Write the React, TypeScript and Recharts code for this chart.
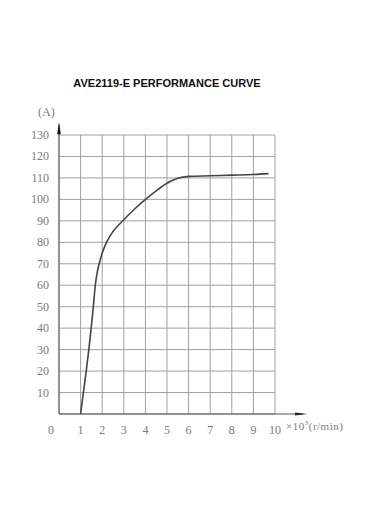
import React from "react";
import {
  LineChart,
  Line,
  XAxis,
  YAxis,
  CartesianGrid,
  ReferenceLine,
} from "recharts";

const speedK = [1.0, 1.13, 1.26, 1.38, 1.49, 1.59, 1.68, 1.77, 1.86, 2.0, 2.2, 2.5, 3.0, 3.5, 4.0, 4.5, 5.0, 5.5, 6.0, 7.0, 8.0, 9.0, 9.7];
const currentA = [0, 10, 20, 30, 40, 50, 60, 66, 70, 75, 80, 85, 90.5, 95.5, 100, 104, 107.5, 109.8, 110.7, 111, 111.3, 111.6, 112];
const xTicks = [0, 1, 2, 3, 4, 5, 6, 7, 8, 9, 10];
const yTicks = [0, 10, 20, 30, 40, 50, 60, 70, 80, 90, 100, 110, 120, 130];
const title = "AVE2119-E PERFORMANCE CURVE";

const data = speedK.map((s, i) => ({ s, a: currentA[i] }));

const FONT = "'Liberation Serif', 'DejaVu Serif', serif";
const TXT = "#7a7a7a";

const XTick = (props: any) => {
  const { x, y, payload } = props;
  const dx = payload.value === 0 ? -8 : 0;
  return (
    <text x={x + dx} y={y + 12} textAnchor="middle" fontFamily={FONT} fontSize={12} fill={TXT}>
      {payload.value}
    </text>
  );
};

const YTick = (props: any) => {
  const { x, y, payload } = props;
  if (payload.value === 0) return null;
  return (
    <text x={x} y={y + 4} textAnchor="end" fontFamily={FONT} fontSize={12} fill={TXT}>
      {payload.value}
    </text>
  );
};

const XArrowLine = (p: any) => (
  <g>
    <line x1={p.x1} y1={p.y1} x2={p.x2} y2={p.y2} stroke="#555" strokeWidth={1} />
    <polygon points={`${p.x2 + 4},${p.y2} ${p.x2 - 8},${p.y2 - 1.5} ${p.x2 - 8},${p.y2 + 1.5}`} fill="#222" />
  </g>
);

const YArrowLine = (p: any) => {
  const topY = Math.min(p.y1, p.y2);
  const botY = Math.max(p.y1, p.y2);
  return (
    <g>
      <line x1={p.x1} y1={botY} x2={p.x1} y2={topY} stroke="#555" strokeWidth={1} />
      <polygon points={`${p.x1},${topY - 2} ${p.x1 - 1.8},${topY + 10} ${p.x1 + 1.8},${topY + 10}`} fill="#111" />
    </g>
  );
};

export default function App() {
  return (
    <div style={{ position: "absolute", left: 0, top: 0, width: 376, height: 531, background: "#fff" }}>
      <div
        style={{
          position: "absolute",
          left: 0,
          width: 334,
          top: 77,
          textAlign: "center",
          fontFamily: "'Liberation Sans', Arial, sans-serif",
          fontWeight: "bold",
          fontSize: 11,
          color: "#111",
        }}
      >
        {title}
      </div>
      <div
        style={{
          position: "absolute",
          left: 38,
          top: 105,
          fontFamily: FONT,
          fontSize: 12,
          color: TXT,
        }}
      >
        (A)
      </div>
      <div
        style={{
          position: "absolute",
          left: 286,
          top: 419,
          fontFamily: FONT,
          fontSize: 11,
          color: TXT,
          letterSpacing: 0.5,
          whiteSpace: "nowrap",
        }}
      >
        ×10<sup style={{ fontSize: 7 }}>3</sup>(r/min)
      </div>
      <LineChart
        width={376}
        height={531}
        data={data}
        margin={{ left: 29, right: 101, top: 135, bottom: 97 }}
        style={{ position: "absolute", left: 0, top: 0 }}
      >
        <CartesianGrid stroke="#a0a0a0" strokeWidth={1} />
        <XAxis
          dataKey="s"
          type="number"
          domain={[0, 10]}
          ticks={xTicks}
          tick={<XTick />}
          tickLine={false}
          axisLine={false}
          interval={0}
          height={20}
        />
        <YAxis
          type="number"
          domain={[0, 130]}
          ticks={yTicks}
          tick={<YTick />}
          tickLine={false}
          axisLine={false}
          interval={0}
          width={30}
          tickMargin={4}
        />
        <ReferenceLine
          ifOverflow="visible"
          segment={[{ x: 0, y: 0 }, { x: 11.3, y: 0 }]}
          shape={<XArrowLine />}
        />
        <ReferenceLine
          ifOverflow="visible"
          segment={[{ x: 0, y: 0 }, { x: 0, y: 135 }]}
          shape={<YArrowLine />}
        />
        <Line
          type="monotone"
          dataKey="a"
          stroke="#444"
          strokeWidth={1.6}
          dot={false}
          isAnimationActive={false}
        />
      </LineChart>
    </div>
  );
}
